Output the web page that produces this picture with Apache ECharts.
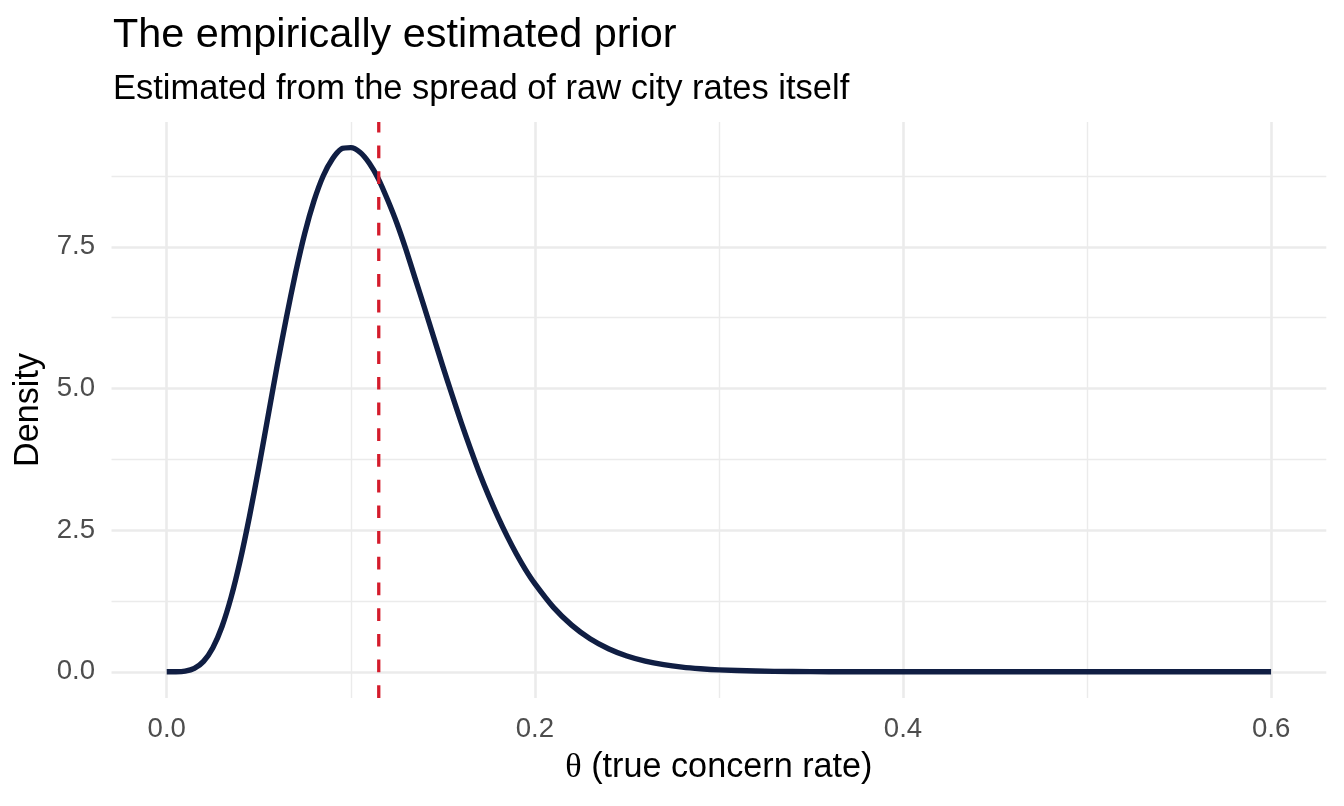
<!DOCTYPE html>
<html>
<head>
<meta charset="utf-8">
<script src="https://cdn.jsdelivr.net/npm/echarts@6/dist/echarts.min.js"></script>
<style>
  html, body { margin: 0; padding: 0; background: #ffffff; }
  #chart { width: 1344px; height: 806px; }
</style>
</head>
<body>
<div id="chart"></div>
<script>
// ---- data ----
const theta = [0, 0.005, 0.01, 0.015, 0.02, 0.025, 0.03, 0.035, 0.04, 0.045,
  0.05, 0.055, 0.06, 0.065, 0.07, 0.075, 0.08, 0.085, 0.09, 0.095,
  0.1, 0.105, 0.11, 0.115, 0.12, 0.125, 0.13, 0.135, 0.14, 0.145,
  0.15, 0.155, 0.16, 0.165, 0.17, 0.175, 0.18, 0.185, 0.19, 0.195,
  0.2, 0.21, 0.22, 0.23, 0.24, 0.25, 0.26, 0.27, 0.28, 0.29,
  0.3, 0.32, 0.34, 0.36, 0.38, 0.4, 0.45, 0.5, 0.55, 0.6];
const density = [0, 0.0005, 0.011, 0.059, 0.184, 0.421, 0.796, 1.318, 1.976, 2.748,
  3.60, 4.50, 5.40, 6.25, 7.04, 7.74, 8.31, 8.75, 9.05, 9.23,
  9.25, 9.17, 8.98, 8.70, 8.33, 7.92, 7.45, 6.94, 6.43, 5.91,
  5.39, 4.89, 4.40, 3.94, 3.50, 3.10, 2.73, 2.39, 2.08, 1.80,
  1.556, 1.142, 0.824, 0.584, 0.408, 0.280, 0.190, 0.127, 0.083, 0.054,
  0.034, 0.0135, 0.005, 0.002, 0.0007, 0.0002, 0, 0, 0, 0];
const priorMean = 0.1152;
const xTicks = [0, 0.2, 0.4, 0.6];
const xMinorTicks = [0.1, 0.3, 0.5];
const yTicks = [0, 2.5, 5, 7.5];
const yMinorTicks = [1.25, 3.75, 6.25, 8.75];
const xRange = [-0.03, 0.63];
const yRange = [-0.462, 9.703];

const titleText = 'The empirically estimated prior';
const subtitleText = 'Estimated from the spread of raw city rates itself';
const xName = '{t|θ} (true concern rate)';
const yName = 'Density';

// ---- chart ----
const FONT = '"Liberation Sans", Arial, Helvetica, sans-serif';
const GRID_COL = '#EBEBEB';
const chart = echarts.init(document.getElementById('chart'), null, { renderer: 'canvas' });

const curveData = theta.map((t, i) => [t, density[i]]);
const meanData = [[priorMean, yRange[0]], [priorMean, yRange[1]]];

const gridLines = [];
xTicks.forEach(v => gridLines.push({ xAxis: v, lineStyle: { width: 2.6, color: GRID_COL, type: 'solid' } }));
xMinorTicks.forEach(v => gridLines.push({ xAxis: v, lineStyle: { width: 1.4, color: GRID_COL, type: 'solid' } }));
yTicks.forEach(v => gridLines.push({ yAxis: v, lineStyle: { width: 2.6, color: GRID_COL, type: 'solid' } }));
yMinorTicks.forEach(v => gridLines.push({ yAxis: v, lineStyle: { width: 1.4, color: GRID_COL, type: 'solid' } }));

chart.setOption({
  animation: false,
  backgroundColor: '#ffffff',
  textStyle: { fontFamily: FONT },
  title: [
    { text: titleText, left: 113, top: 15, padding: 0,
      textStyle: { fontFamily: FONT, fontSize: 41.4, fontWeight: 'normal', color: '#000000' } },
    { text: subtitleText, left: 113, top: 72, padding: 0,
      textStyle: { fontFamily: FONT, fontSize: 34.5, fontWeight: 'normal', color: '#000000' } }
  ],
  grid: { left: 111.5, right: 17.7, top: 122, bottom: 108, containLabel: false },
  xAxis: {
    type: 'value', min: xRange[0], max: xRange[1],
    axisLine: { show: false }, axisTick: { show: false }, splitLine: { show: false },
    axisLabel: {
      customValues: xTicks, margin: 17.5, color: '#4D4D4D', fontSize: 27.6, fontFamily: FONT,
      formatter: v => v.toFixed(1)
    },
    name: xName, nameLocation: 'middle', nameGap: 53,
    nameTextStyle: { color: '#000000', fontSize: 34.2, fontFamily: FONT,
      rich: { t: { fontFamily: '"Liberation Serif", "DejaVu Serif", serif', fontSize: 34.2, color: '#000000' } } }
  },
  yAxis: {
    type: 'value', min: yRange[0], max: yRange[1],
    axisLine: { show: false }, axisTick: { show: false }, splitLine: { show: false },
    axisLabel: {
      customValues: yTicks, margin: 16.5, color: '#4D4D4D', fontSize: 27.6, fontFamily: FONT,
      formatter: v => v.toFixed(1)
    },
    name: yName, nameLocation: 'middle', nameGap: 59, nameRotate: 90,
    nameTextStyle: { color: '#000000', fontSize: 34.2, fontFamily: FONT }
  },
  series: [
    {
      name: 'grid', type: 'line', z: 1, data: [], showSymbol: false, silent: true,
      markLine: { z: 1, silent: true, symbol: ['none', 'none'], label: { show: false }, animation: false,
        emphasis: { disabled: true }, data: gridLines }
    },
    {
      name: 'prior', type: 'line', z: 10, data: curveData, showSymbol: false, silent: true,
      smooth: 0.25,
      lineStyle: { color: '#101E43', width: 5.4, cap: 'butt', join: 'round' }
    },
    {
      name: 'mean', type: 'line', z: 11, data: meanData, showSymbol: false, silent: true,
      lineStyle: { color: '#D41C2C', width: 3.3, type: [12.7, 13], cap: 'butt' }
    }
  ]
});
</script>
</body>
</html>
